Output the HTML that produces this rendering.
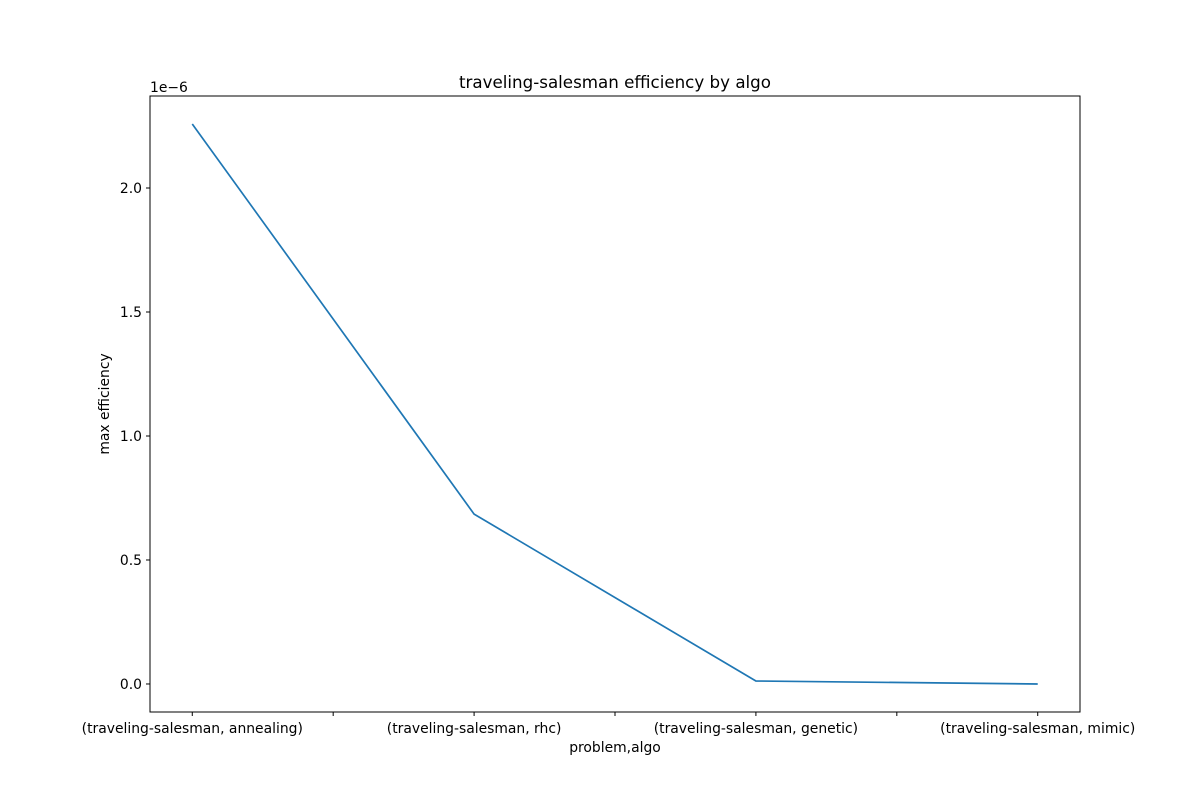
<!DOCTYPE html>
<html><head><meta charset="utf-8"><style>
body{margin:0;background:#fff;}
svg text{font-family:"DejaVu Sans","Liberation Sans",sans-serif;font-size:13.9px;fill:#000;}
</style></head><body>
<svg id="chart" width="1200" height="800" xmlns="http://www.w3.org/2000/svg"></svg>
<script>
const categories = ["(traveling-salesman, annealing)","(traveling-salesman, rhc)","(traveling-salesman, genetic)","(traveling-salesman, mimic)"];
const efficiency = [2.258, 0.685, 0.012, 0.0];
const yTicks = [0.0, 0.5, 1.0, 1.5, 2.0];
const yTickLabels = ["0.0","0.5","1.0","1.5","2.0"];

const L=150,R=1080,T=96,B=712;
const xMin=-0.15,xMax=categories.length-1+0.15,yMin=-0.113,yMax=2.371;
const sx=v=>L+(v-xMin)/(xMax-xMin)*(R-L);
const sy=v=>B-(v-yMin)/(yMax-yMin)*(B-T);
const svg=document.getElementById('chart');
const NS="http://www.w3.org/2000/svg";
function mk(tag,attrs,text){const e=document.createElementNS(NS,tag);for(const k in attrs)e.setAttribute(k,attrs[k]);if(text!==undefined)e.textContent=text;svg.appendChild(e);return e;}

let t=mk('text',{x:615,y:88,'text-anchor':'middle'},'traveling-salesman efficiency by algo');


t.style.fontSize='16.7px';

yTicks.forEach((v,i)=>{
  const y=sy(v);
  let l=mk('line',{x1:L-4,x2:L,y1:y,y2:y,stroke:'#000','stroke-width':1});
  
  
  let tx=mk('text',{x:L-8,y:y+5,'text-anchor':'end'},yTickLabels[i]);
  
  
});
let off=mk('text',{x:150,y:92},'1e\u22126');



categories.forEach((c,i)=>{
  const x=sx(i);
  let l=mk('line',{x1:x,x2:x,y1:B,y2:B+4,stroke:'#000','stroke-width':1});
  
  
  let tx=mk('text',{x:x,y:B+21,'text-anchor':'middle'},c);
  
  
  if(i<categories.length-1){
    const xm=sx(i+0.5);
    let m=mk('line',{x1:xm,x2:xm,y1:B,y2:B+4,stroke:'#000','stroke-width':1});
    
    
  }
});

let xl=mk('text',{x:615,y:752,'text-anchor':'middle'},'problem,algo');


let yl=mk('text',{x:0,y:0,'text-anchor':'middle',transform:'translate(109,404) rotate(-90)'},'max efficiency');



let pts=efficiency.map((v,i)=>sx(i)+','+sy(v)).join(' ');
let pl=mk('polyline',{points:pts,fill:'none',stroke:'#1f77b4','stroke-width':1.7});



let fr=mk('rect',{x:L,y:T,width:R-L,height:B-T,fill:'none',stroke:'#000','stroke-width':1});


</script>
</body></html>
